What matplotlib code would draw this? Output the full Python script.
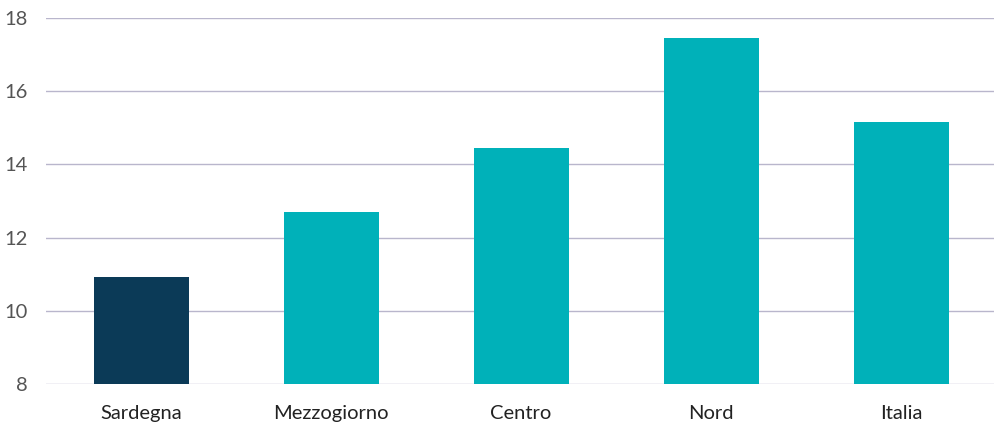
import matplotlib.pyplot as plt

regioni = ['Sardegna', 'Mezzogiorno', 'Centro', 'Nord', 'Italia']
valori = [10.93, 12.70, 14.45, 17.45, 15.17]
colori = ['#0b3a57', '#00b1b9', '#00b1b9', '#00b1b9', '#00b1b9']

plt.rcParams['font.family'] = ['Lato', 'DejaVu Sans']

fig = plt.figure(figsize=(9.94, 4.22), dpi=100)
ax = fig.add_axes([46/994, 1 - 384/422, 950/994, 366/422])

ax.bar(regioni, valori, width=0.5, color=colori, bottom=0, zorder=3)
ax.set_ylim(8, 18)
ax.set_xlim(-0.5, 4.5)
ax.set_yticks([8, 10, 12, 14, 16, 18])
ax.yaxis.grid(True, color='#b9b6cc', linewidth=1)
ax.set_axisbelow(True)
for s in ax.spines.values():
    s.set_visible(False)
ax.tick_params(axis='both', length=0, labelsize=14.5, colors='#222222')
ax.tick_params(axis='y', pad=13, colors='#555555')
ax.tick_params(axis='x', pad=15)

fig.savefig('out.png', dpi=100)
